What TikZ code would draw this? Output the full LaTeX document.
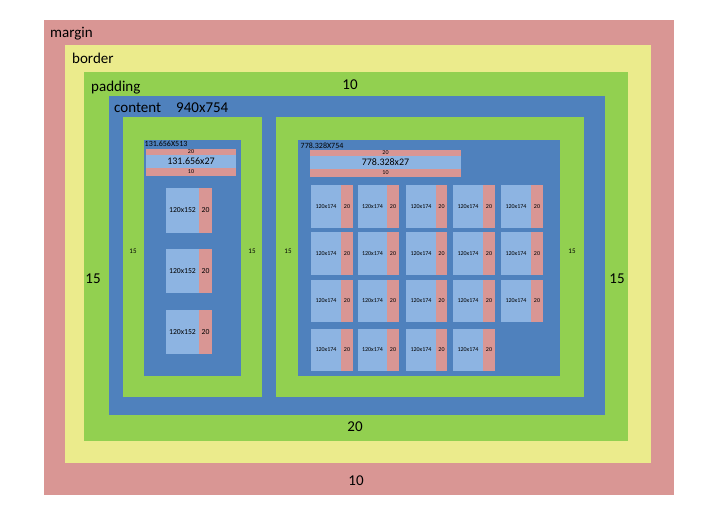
\documentclass[tikz,border=0pt]{standalone}
\usepackage{fontspec}
\setmainfont{Carlito}
\usepackage{tikz}
\definecolor{marginred}{RGB}{217,150,148}
\definecolor{borderyellow}{RGB}{235,235,140}
\definecolor{paddinggreen}{RGB}{146,208,80}
\definecolor{contentblue}{RGB}{79,129,189}
\definecolor{cardblue}{RGB}{141,180,226}

\begin{document}
\begin{tikzpicture}[
	bigtxt/.style={inner sep=0pt, font=\fontsize{15}{18}\selectfont},
	headtxt/.style={inner sep=0pt, font=\fontsize{10}{12}\selectfont},
	boxtxt/.style={inner sep=0pt, font=\fontsize{8}{10}\selectfont},
	cardtxt/.style={inner sep=0pt, font=\fontsize{7.7}{9}\selectfont},
	padtxt/.style={inner sep=0pt, font=\fontsize{7}{8}\selectfont},
	tinytxt/.style={inner sep=0pt, font=\fontsize{6}{7}\selectfont},
	card/.style={fill=cardblue},
	side/.style={fill=marginred}]
				\begin{scope}[x=1pt, y=-1pt]
					\useasboundingbox (0,0) rectangle (706,506);
					
					% nested boxes
					\fill[marginred] (44,20) rectangle (674,495);
					\fill[borderyellow] (65,45) rectangle (651,463);
					\fill[paddinggreen] (84,72) rectangle (628,441);
					\fill[contentblue] (109,96) rectangle (605,415);
					
					\fill[paddinggreen] (123,117) rectangle (262,397);
					\fill[paddinggreen] (276,117) rectangle (584,397);
					\fill[contentblue] (144,140) rectangle (241,376);
					\fill[contentblue] (298,140) rectangle (560,376);
					
					% labels
					\node[bigtxt, anchor=base west] (margin) at (50,37) {margin};
					\node[bigtxt, anchor=base west] (border) at (72,63) {border};
					\node[bigtxt, anchor=base west] (padding) at (91,91) {padding};
					\node[bigtxt, anchor=base west] (content) at (114,112.5) {content};
					\node[bigtxt, anchor=base west] (size) at (176,112.5) {940x754};
					
					\node[bigtxt] (padtop) at (350,85) {10};
					\node[bigtxt] (padleft) at (93,279) {15};
					\node[bigtxt] (padright) at (617,279) {15};
					\node[bigtxt] (padbottom) at (355,427) {20};
					\node[bigtxt] (marbottom) at (356,481) {10};
					
					\node[padtxt] (leftl) at (133,251) {15};
					\node[padtxt] (leftr) at (252,251) {15};
					\node[padtxt] (rightl) at (288,251) {15};
					\node[padtxt] (rightr) at (572,251) {15};
					
					% left column
					\node[boxtxt, anchor=west] (lsize) at (144.5,143.5) {131.656X513};
					\fill[side] (146,149) rectangle (236,155);
					\fill[card] (146,155) rectangle (236,168);
					\fill[side] (146,168) rectangle (236,176);
					\node[tinytxt] (ltop) at (191,152) {20};
					\node[headtxt] (lhead) at (191,161.5) {131.656x27};
					\node[tinytxt] (lbot) at (191,172) {10};
					
					\fill[card] (166,188) rectangle (199,233); \fill[side] (199,188) rectangle (212,233);
					\node[cardtxt] (l1) at (182.5,210.5) {120x152}; \node[cardtxt] (l1s) at (205.5,210.5) {20};
					
					\fill[card] (166,249) rectangle (199,293); \fill[side] (199,249) rectangle (212,293);
					\node[cardtxt] (l2) at (182.5,271) {120x152}; \node[cardtxt] (l2s) at (205.5,271) {20};
					
					\fill[card] (166,310) rectangle (199,354); \fill[side] (199,310) rectangle (212,354);
					\node[cardtxt] (l3) at (182.5,332) {120x152}; \node[cardtxt] (l3s) at (205.5,332) {20};
					
					% right column
					\node[boxtxt, anchor=west] (rsize) at (300.5,146) {778.328X754};
					\fill[side] (310,150) rectangle (461,156);
					\fill[card] (310,156) rectangle (461,169);
					\fill[side] (310,169) rectangle (461,177);
					\node[tinytxt] (rtop) at (385.5,153) {20};
					\node[headtxt] (rhead) at (385.5,162.5) {778.328x27};
					\node[tinytxt] (rbot) at (385.5,173) {10};
					
					% row 1
					\fill[card] (311,185) rectangle (341,228); \fill[side] (341,185) rectangle (353,228);
					\node[tinytxt] (a1) at (326,206.5) {120x174}; \node[tinytxt] (a1s) at (347,206.5) {20};
					\fill[card] (358,185) rectangle (387,228); \fill[side] (387,185) rectangle (399,228);
					\node[tinytxt] (a2) at (372.5,206.5) {120x174}; \node[tinytxt] (a2s) at (393,206.5) {20};
					\fill[card] (406,185) rectangle (436,228); \fill[side] (436,185) rectangle (447,228);
					\node[tinytxt] (a3) at (421,206.5) {120x174}; \node[tinytxt] (a3s) at (441.5,206.5) {20};
					\fill[card] (453,185) rectangle (483,228); \fill[side] (483,185) rectangle (495,228);
					\node[tinytxt] (a4) at (468,206.5) {120x174}; \node[tinytxt] (a4s) at (489,206.5) {20};
					\fill[card] (501,185) rectangle (531,228); \fill[side] (531,185) rectangle (543,228);
					\node[tinytxt] (a5) at (516,206.5) {120x174}; \node[tinytxt] (a5s) at (537,206.5) {20};
					
					% row 2
					\fill[card] (311,232) rectangle (341,275); \fill[side] (341,232) rectangle (353,275);
					\node[tinytxt] (b1) at (326,253.5) {120x174}; \node[tinytxt] (b1s) at (347,253.5) {20};
					\fill[card] (358,232) rectangle (387,275); \fill[side] (387,232) rectangle (399,275);
					\node[tinytxt] (b2) at (372.5,253.5) {120x174}; \node[tinytxt] (b2s) at (393,253.5) {20};
					\fill[card] (406,232) rectangle (436,275); \fill[side] (436,232) rectangle (447,275);
					\node[tinytxt] (b3) at (421,253.5) {120x174}; \node[tinytxt] (b3s) at (441.5,253.5) {20};
					\fill[card] (453,232) rectangle (483,275); \fill[side] (483,232) rectangle (495,275);
					\node[tinytxt] (b4) at (468,253.5) {120x174}; \node[tinytxt] (b4s) at (489,253.5) {20};
					\fill[card] (501,232) rectangle (531,275); \fill[side] (531,232) rectangle (543,275);
					\node[tinytxt] (b5) at (516,253.5) {120x174}; \node[tinytxt] (b5s) at (537,253.5) {20};
					
					% row 3
					\fill[card] (311,280) rectangle (341,322); \fill[side] (341,280) rectangle (353,322);
					\node[tinytxt] (c1) at (326,301) {120x174}; \node[tinytxt] (c1s) at (347,301) {20};
					\fill[card] (358,280) rectangle (387,322); \fill[side] (387,280) rectangle (399,322);
					\node[tinytxt] (c2) at (372.5,301) {120x174}; \node[tinytxt] (c2s) at (393,301) {20};
					\fill[card] (406,280) rectangle (436,322); \fill[side] (436,280) rectangle (447,322);
					\node[tinytxt] (c3) at (421,301) {120x174}; \node[tinytxt] (c3s) at (441.5,301) {20};
					\fill[card] (453,280) rectangle (483,322); \fill[side] (483,280) rectangle (495,322);
					\node[tinytxt] (c4) at (468,301) {120x174}; \node[tinytxt] (c4s) at (489,301) {20};
					\fill[card] (501,280) rectangle (531,322); \fill[side] (531,280) rectangle (543,322);
					\node[tinytxt] (c5) at (516,301) {120x174}; \node[tinytxt] (c5s) at (537,301) {20};
					
					% row 4
					\fill[card] (311,329) rectangle (341,371); \fill[side] (341,329) rectangle (353,371);
					\node[tinytxt] (d1) at (326,350) {120x174}; \node[tinytxt] (d1s) at (347,350) {20};
					\fill[card] (358,329) rectangle (387,371); \fill[side] (387,329) rectangle (399,371);
					\node[tinytxt] (d2) at (372.5,350) {120x174}; \node[tinytxt] (d2s) at (393,350) {20};
					\fill[card] (406,329) rectangle (436,371); \fill[side] (436,329) rectangle (447,371);
					\node[tinytxt] (d3) at (421,350) {120x174}; \node[tinytxt] (d3s) at (441.5,350) {20};
					\fill[card] (453,329) rectangle (483,371); \fill[side] (483,329) rectangle (495,371);
					\node[tinytxt] (d4) at (468,350) {120x174}; \node[tinytxt] (d4s) at (489,350) {20};
					
				\end{scope}
			\end{tikzpicture}
\end{document}
